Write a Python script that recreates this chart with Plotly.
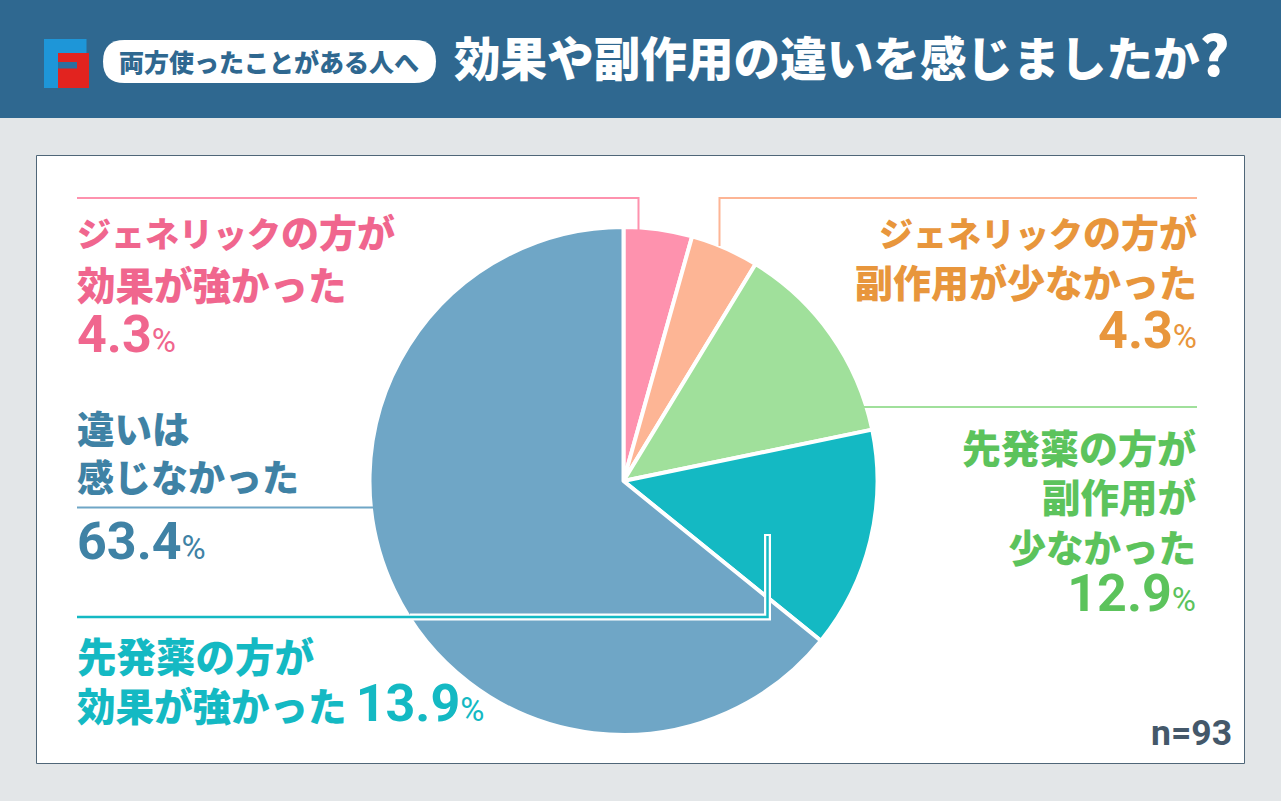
import plotly.graph_objects as go

categories = ["ジェネリックの方が効果が強かった", "ジェネリックの方が副作用が少なかった",
              "先発薬の方が副作用が少なかった", "先発薬の方が効果が強かった", "違いは感じなかった"]
values = [4.3, 4.3, 12.9, 13.9, 63.4]
slice_colors = ["#FE92AE", "#FDB595", "#A0E09B", "#14B9C3", "#6FA6C6"]

W, H = 1281, 801
JP = "Noto Sans CJK JP"
NUM = "Roboto"
def X(v): return v / W
def Y(v): return 1 - v / H

fig = go.Figure()
cx, cy, r = 623.5, 481, 254
fig.add_trace(go.Pie(labels=categories, values=values, sort=False, direction="clockwise",
                     rotation=0, textinfo="none", hoverinfo="label+percent", showlegend=False,
                     marker=dict(colors=slice_colors, line=dict(color="white", width=4)),
                     domain=dict(x=[X(cx - r), X(cx + r)], y=[Y(cy + r), Y(cy - r)])))

shapes = []
def rect(x0, y0, x1, y1, fill, line=None, lw=0, layer="below"):
    shapes.append(dict(type="rect", xref="paper", yref="paper", x0=X(x0), x1=X(x1), y0=Y(y0), y1=Y(y1),
                       fillcolor=fill, line=dict(color=line or fill, width=lw), layer=layer))
def path(pts, color, w, layer="above"):
    d = "M " + " L ".join(f"{X(a):.5f},{Y(b):.5f}" for a, b in pts)
    shapes.append(dict(type="path", xref="paper", yref="paper", path=d,
                       line=dict(color=color, width=w), layer=layer))

rect(0, 0, W, H, "#E3E6E8")
rect(0, 0, W, 118, "#2F6890")
rect(36.5, 155.5, 1244.5, 763.5, "#FFFFFF", "#4F6678", 1)

# logo
rect(44, 39, 86.5, 53, "#1E96D8")
rect(44, 39, 58, 88, "#1E96D8")
rect(58, 53, 89, 88, "#E2231F")
rect(58, 62, 77, 68.5, "#2B6F9F")

# pill
px0, px1, py0, py1, rad = 103, 436, 40, 83, 21.5
pill = (f"M {X(px0+rad):.5f},{Y(py0):.5f} L {X(px1-rad):.5f},{Y(py0):.5f} "
        f"Q {X(px1):.5f},{Y(py0):.5f} {X(px1):.5f},{Y((py0+py1)/2):.5f} "
        f"Q {X(px1):.5f},{Y(py1):.5f} {X(px1-rad):.5f},{Y(py1):.5f} "
        f"L {X(px0+rad):.5f},{Y(py1):.5f} "
        f"Q {X(px0):.5f},{Y(py1):.5f} {X(px0):.5f},{Y((py0+py1)/2):.5f} "
        f"Q {X(px0):.5f},{Y(py0):.5f} {X(px0+rad):.5f},{Y(py0):.5f} Z")
shapes.append(dict(type="path", xref="paper", yref="paper", path=pill, fillcolor="white",
                   line=dict(color="white", width=0), layer="below"))

# leader lines
path([(77, 198), (638.5, 198), (638.5, 230)], "#FE92AE", 2)
path([(1197, 198), (719.5, 198), (719.5, 246)], "#FDB595", 2)
path([(862, 407), (1197, 407)], "#A0E09B", 2)
path([(77, 507.5), (373, 507.5)], "#6FA6C6", 2)
path([(410, 617), (767.5, 617), (767.5, 534)], "#FFFFFF", 7)
path([(77, 617), (767.5, 617), (767.5, 536)], "#14B9C3", 2.5)

fig.update_layout(width=W, height=H, margin=dict(l=0, r=0, t=0, b=0), autosize=False,
                  paper_bgcolor="#E3E6E8", plot_bgcolor="#E3E6E8", shapes=shapes,
                  font=dict(family=JP))

def text(x, y, s, color, size, anchor="left", family=JP, weight=900):
    fig.add_annotation(xref="paper", yref="paper", x=X(x), y=Y(y), text=s, showarrow=False,
                       xanchor=anchor, yanchor="middle", align=anchor,
                       font=dict(family=family, size=size, color=color, weight=weight),
                       borderpad=0, borderwidth=0)

def j(s, size):
    return f'<span style="font-size:{size}px">{s}</span>'

def pct(num, size=52):
    return (f'<span style="font-family:{NUM};font-size:{size}px;font-weight:700">{num}</span>'
            f'<span style="font-family:{NUM};font-size:33px;font-weight:400">%</span>')

def gene(tail, size=38):
    return j("ジェネリック", 34) + j(tail, size)

PINK, ORANGE, GREEN, BLUE, TEAL = "#F0668E", "#E8963C", "#5CC35C", "#3F82A5", "#14B9C3"
text(454, 51, '効果や副作用の違いを感じましたか<span style="font-size:56px">?</span>', "#FFFFFF", 46.6)
text(119, 61, "両方使ったことがある人へ", "#2F6890", 25)

text(77, 284, "<br>".join([gene("の方が"), j("効果が強かった", 38.5), pct("4.3")]), PINK, 40.4)
text(1197, 282, "<br>".join([gene("の方が"), j("副作用が少なかった", 38), pct("4.3")]), ORANGE, 38.8, "right")
text(1197, 521, "<br>".join([j("先発薬の方が", 39), j("副作用が", 38.5), j("少なかった", 37.5), pct("12.9")]),
     GREEN, 38, "right")
text(77, 451, "<br>".join([j("違いは", 37.5), j("感じなかった", 37)]), BLUE, 38)
text(77, 541, pct("63.4"), BLUE, 52, family=NUM, weight=700)
text(77, 680, "<br>".join([j("先発薬の方が", 39.5),
                           j("効果が強かった", 38.5) + j(" ", 40) + pct("13.9")]), TEAL, 38)

text(1232, 733, "n=93", "#44586A", 35.5, "right", NUM, 700)

fig.write_html("out.html", config=dict(displayModeBar=False),
               post_script="document.body.style.margin='0';document.body.style.overflow='hidden';")
